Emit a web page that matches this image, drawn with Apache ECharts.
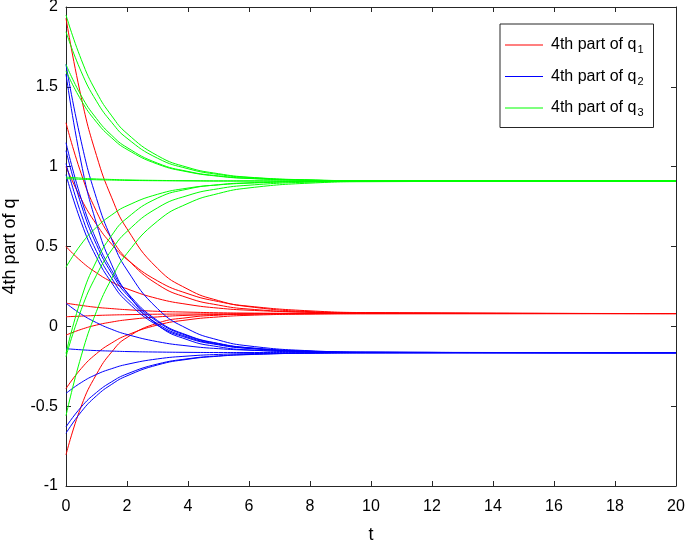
<!DOCTYPE html>
<html>
<head>
<meta charset="utf-8">
<script src="https://cdn.jsdelivr.net/npm/echarts@6/dist/echarts.min.js"></script>
<style>
html,body{margin:0;padding:0;background:#fff;}
#chart{width:685px;height:542px;}
</style>
</head>
<body>
<div id="chart"></div>
<script>
// sample times (t)
const tSamples = [0, 0.5, 1, 1.5, 2, 3, 4, 5, 6, 8, 10, 20];
const xTicks = [0, 2, 4, 6, 8, 10, 12, 14, 16, 18, 20];
const yTicks = [-1, -0.5, 0, 0.5, 1, 1.5, 2];
const legendNames = ['4th part of q1', '4th part of q2', '4th part of q3'];

// 4th part of q1 (red) trajectories
const q1Curves = [
  [1.93, 1.434, 1.070, 0.805, 0.611, 0.363, 0.232, 0.161, 0.123, 0.092, 0.084, 0.08],
  [1.0, 0.797, 0.638, 0.514, 0.419, 0.285, 0.204, 0.155, 0.126, 0.097, 0.086, 0.08],
  [1.275, 0.955, 0.719, 0.548, 0.423, 0.263, 0.178, 0.133, 0.108, 0.088, 0.082, 0.08],
  [0.5, 0.407, 0.335, 0.278, 0.235, 0.174, 0.137, 0.114, 0.101, 0.088, 0.083, 0.08],
  [0.145, 0.131, 0.119, 0.111, 0.104, 0.094, 0.089, 0.085, 0.083, 0.081, 0.080, 0.08],
  [0.06, 0.064, 0.068, 0.071, 0.073, 0.076, 0.077, 0.078, 0.079, 0.080, 0.080, 0.08],
  [-0.055, -0.019, 0.008, 0.027, 0.041, 0.059, 0.069, 0.074, 0.077, 0.079, 0.080, 0.08],
  [-0.39, -0.264, -0.171, -0.104, -0.055, 0.008, 0.041, 0.059, 0.069, 0.077, 0.079, 0.08],
  [-0.805, -0.50, -0.30, -0.16, -0.07, 0.02, 0.055, 0.07, 0.076, 0.079, 0.08, 0.08]
];

// 4th part of q2 (blue) trajectories
const q2Curves = [
  [1.64, 1.156, 0.801, 0.543, 0.353, 0.111, -0.017, -0.086, -0.123, -0.153, -0.162, -0.165],
  [1.58, 1.023, 0.643, 0.385, 0.210, 0.009, -0.085, -0.128, -0.148, -0.161, -0.164, -0.165],
  [1.15, 0.798, 0.539, 0.350, 0.212, 0.036, -0.057, -0.107, -0.134, -0.156, -0.163, -0.165],
  [1.10, 0.761, 0.512, 0.331, 0.198, 0.029, -0.061, -0.109, -0.135, -0.157, -0.163, -0.165],
  [1.02, 0.702, 0.469, 0.300, 0.175, 0.016, -0.068, -0.113, -0.137, -0.157, -0.163, -0.165],
  [0.95, 0.651, 0.432, 0.272, 0.155, 0.006, -0.074, -0.116, -0.139, -0.158, -0.163, -0.165],
  [0.145, 0.076, 0.023, -0.019, -0.051, -0.096, -0.123, -0.140, -0.149, -0.159, -0.163, -0.165],
  [-0.14, -0.147, -0.152, -0.155, -0.158, -0.161, -0.163, -0.164, -0.164, -0.165, -0.165, -0.165],
  [-0.42, -0.352, -0.301, -0.265, -0.238, -0.204, -0.186, -0.176, -0.171, -0.167, -0.165, -0.165],
  [-0.63, -0.505, -0.414, -0.347, -0.298, -0.236, -0.203, -0.185, -0.176, -0.168, -0.166, -0.165],
  [-0.67, -0.535, -0.435, -0.363, -0.310, -0.242, -0.206, -0.187, -0.177, -0.168, -0.166, -0.165]
];

// 4th part of q3 (green) trajectories
const q3Curves = [
  [1.95, 1.671, 1.466, 1.318, 1.208, 1.069, 0.995, 0.956, 0.934, 0.917, 0.912, 0.91],
  [1.845, 1.594, 1.410, 1.277, 1.178, 1.053, 0.987, 0.951, 0.932, 0.916, 0.912, 0.91],
  [1.64, 1.444, 1.301, 1.196, 1.120, 1.022, 0.970, 0.942, 0.927, 0.915, 0.911, 0.91],
  [1.60, 1.415, 1.279, 1.180, 1.108, 1.016, 0.967, 0.940, 0.926, 0.915, 0.911, 0.91],
  [0.935, 0.928, 0.923, 0.920, 0.917, 0.914, 0.912, 0.911, 0.911, 0.91, 0.91, 0.91],
  [0.925, 0.921, 0.918, 0.916, 0.914, 0.912, 0.911, 0.91, 0.91, 0.91, 0.91, 0.91],
  [0.37, 0.515, 0.621, 0.698, 0.755, 0.827, 0.866, 0.886, 0.897, 0.906, 0.909, 0.91],
  [-0.17, 0.175, 0.410, 0.570, 0.678, 0.803, 0.860, 0.887, 0.899, 0.908, 0.909, 0.91],
  [-0.19, 0.105, 0.321, 0.479, 0.594, 0.742, 0.820, 0.862, 0.884, 0.903, 0.908, 0.91],
  [-0.56, -0.185, 0.094, 0.301, 0.457, 0.659, 0.770, 0.832, 0.867, 0.897, 0.906, 0.91]
];

const groupColors = ['#ff0000', '#0000ff', '#00ff00'];
const FONT = '"Liberation Sans", Arial, Helvetica, sans-serif';
const AXIS_COLOR = '#262626';

function buildSeries(curves, name, color) {
  return curves.map(c => ({
    name: name,
    type: 'line',
    data: tSamples.map((t, i) => [t, c[i]]),
    showSymbol: false,
    symbol: 'none',
    smooth: 0.5,
    lineStyle: { color: color, width: 1 },
    itemStyle: { color: color },
    emphasis: { disabled: true },
    silent: true,
    z: 2
  }));
}

const series = [].concat(
  buildSeries(q1Curves, legendNames[0], groupColors[0]),
  buildSeries(q2Curves, legendNames[1], groupColors[1]),
  buildSeries(q3Curves, legendNames[2], groupColors[2])
);

const chart = echarts.init(document.getElementById('chart'), null, { renderer: 'canvas' });

const baseX = {
  type: 'value', min: xTicks[0], max: xTicks[xTicks.length - 1], interval: 2,
  splitLine: { show: false },
  axisLine: { show: true, onZero: false, lineStyle: { color: AXIS_COLOR, width: 1 } },
  axisTick: { show: true, inside: true, length: 5, lineStyle: { color: AXIS_COLOR } }
};
const baseY = {
  type: 'value', min: yTicks[0], max: yTicks[yTicks.length - 1], interval: 0.5,
  splitLine: { show: false },
  axisLine: { show: true, onZero: false, lineStyle: { color: AXIS_COLOR, width: 1 } },
  axisTick: { show: true, inside: true, length: 5, lineStyle: { color: AXIS_COLOR } }
};

chart.setOption({
  animation: false,
  backgroundColor: '#ffffff',
  textStyle: { fontFamily: FONT },
  grid: { left: 66, right: 9, top: 7, bottom: 56, containLabel: false, outerBoundsMode: 'none' },
  xAxis: [
    Object.assign({}, baseX, {
      position: 'bottom',
      name: 't', nameLocation: 'middle', nameGap: 40,
      nameTextStyle: { fontSize: 18, color: '#000', fontFamily: FONT },
      axisLabel: { show: true, margin: 13, fontSize: 16, color: '#000', fontFamily: FONT }
    }),
    Object.assign({}, baseX, {
      position: 'top',
      axisLabel: { show: false }
    })
  ],
  yAxis: [
    Object.assign({}, baseY, {
      position: 'left',
      name: '4th part of q', nameLocation: 'middle', nameGap: 47, nameRotate: 90,
      nameTextStyle: { fontSize: 18, color: '#000', fontFamily: FONT },
      axisLabel: { show: true, margin: 8, fontSize: 16, color: '#000', fontFamily: FONT }
    }),
    Object.assign({}, baseY, {
      position: 'right',
      axisLabel: { show: false }
    })
  ],
  legend: {
    show: true,
    data: legendNames.map((n, i) => ({
      name: n,
      icon: 'rect',
      itemStyle: { color: groupColors[i], borderWidth: 0, opacity: 1 }
    })),
    orient: 'vertical',
    left: 500, top: 24,
    padding: [13, 10, 9, 5],
    itemGap: 13,
    itemWidth: 38,
    itemHeight: 1,
    icon: 'rect',
    backgroundColor: '#ffffff',
    borderColor: AXIS_COLOR,
    borderWidth: 1,
    borderRadius: 0,
    selectedMode: false,
    formatter: function (name) {
      return '{m|' + name.slice(0, -1) + '}{s|' + name.slice(-1) + '}';
    },
    textStyle: {
      fontFamily: FONT,
      color: '#000',
      padding: [0, 0, 0, 3],
      rich: {
        m: { fontSize: 16, color: '#000', fontFamily: FONT, height: 20, verticalAlign: 'middle' },
        s: { fontSize: 11, color: '#000', fontFamily: FONT, padding: [10, 0, 0, 1], verticalAlign: 'middle' }
      }
    }
  },
  series: series
});
</script>
</body>
</html>
